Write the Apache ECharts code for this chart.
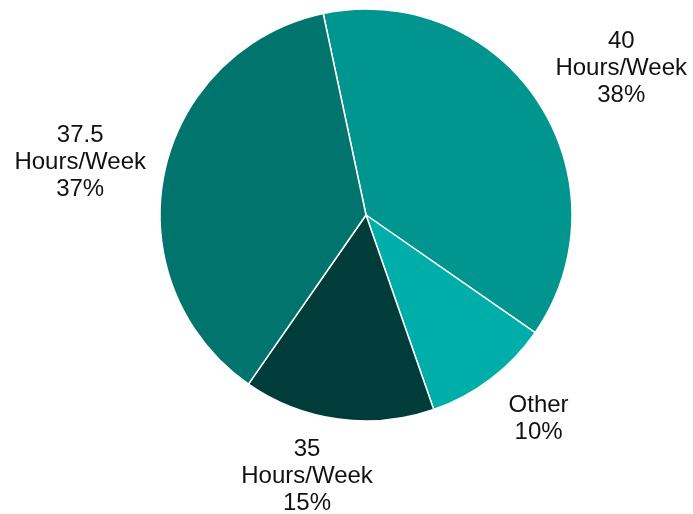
<!DOCTYPE html>
<html>
<head>
<meta charset="utf-8">
<script src="https://cdn.jsdelivr.net/npm/echarts@6/dist/echarts.min.js"></script>
<style>html,body{margin:0;padding:0;background:#fff}#c{width:693px;height:514px}</style>
</head>
<body>
<div id="c"></div>
<script>
// Data
var categories = ['40 Hours/Week', 'Other', '35 Hours/Week', '37.5 Hours/Week'];
var values = [38, 10, 15, 37];
var colors = ['#00958f', '#00aea9', '#003c39', '#00746d'];

// Layout
var CX = 366, CY = 215, R = 206, START = 102, GAP = 10;
var nudges = [[11, 16], [18, 0], [-23, -1], [-3, 4]];

var total = values.reduce(function (a, b) { return a + b; }, 0);
function midAngle(i) {
  var cum = 0;
  for (var k = 0; k < i; k++) cum += values[k];
  var deg = (90 - START) + (cum + values[i] / 2) / total * 360; // from top, clockwise
  return deg * Math.PI / 180;
}

var chart = echarts.init(document.getElementById('c'), null, { renderer: 'canvas' });
chart.setOption({
  backgroundColor: '#ffffff',
  animation: false,
  series: [{
    type: 'pie',
    center: [CX, CY],
    radius: [0, R],
    startAngle: START,
    clockwise: true,
    avoidLabelOverlap: false,
    itemStyle: { borderColor: '#ffffff', borderWidth: 1.5 },
    label: {
      show: true,
      position: 'outside',
      fontFamily: 'Liberation Sans, Arial, sans-serif',
      fontSize: 24,
      lineHeight: 27,
      color: '#111111',
      align: 'center',
      formatter: function (p) {
        return p.name.replace(' ', '\n') + '\n' + p.value + '%';
      }
    },
    labelLine: { show: false },
    labelLayout: function (p) {
      var i = p.dataIndex;
      var a = midAngle(i);
      var s = Math.sin(a), c = Math.cos(a);
      var w = p.labelRect.width, h = p.labelRect.height;
      var ext = Math.abs(s) * w / 2 + Math.abs(c) * h / 2;
      var d = R + GAP + ext;
      return {
        x: CX + s * d + nudges[i][0],
        y: CY - c * d + nudges[i][1],
        align: 'center',
        verticalAlign: 'middle'
      };
    },
    data: categories.map(function (n, i) {
      return { name: n, value: values[i], itemStyle: { color: colors[i] } };
    })
  }]
});
</script>
</body>
</html>
